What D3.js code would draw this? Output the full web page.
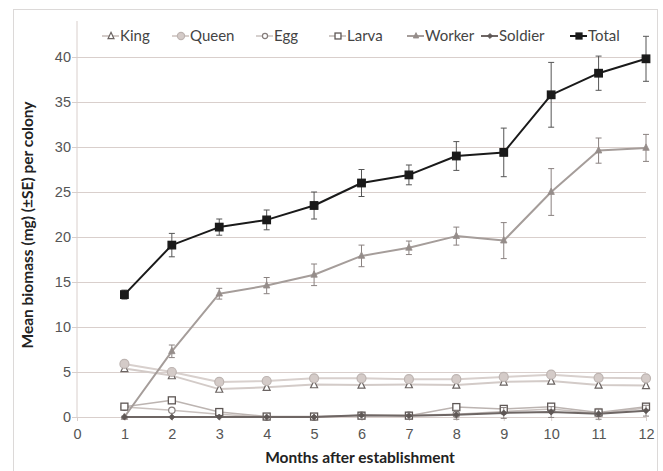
<!DOCTYPE html>
<html>
<head>
<meta charset="utf-8">
<script src="https://cdn.jsdelivr.net/npm/d3@7"></script>
<style>
  html, body { margin: 0; padding: 0; background: #fff; }
  svg { display: block; font-family: Lato, "Open Sans", sans-serif; }
</style>
</head>
<body>
<svg id="chart" width="663" height="471"></svg>
<script>
// Colony biomass by caste over the first year
const months = [1, 2, 3, 4, 5, 6, 7, 8, 9, 10, 11, 12];

const king    = [5.4, 4.6, 3.1, 3.3, 3.6, 3.55, 3.6, 3.55, 3.9, 4.0, 3.55, 3.5];
const queen   = [5.9, 5.0, 3.9, 4.0, 4.3, 4.3, 4.2, 4.2, 4.45, 4.7, 4.35, 4.3];
const egg     = [1.1, 0.75, 0.3, 0.0, 0.0, 0.2, 0.2, 0.3, 0.6, 0.9, 0.4, 1.0];
const larva   = [1.15, 1.85, 0.55, 0.05, 0.05, 0.15, 0.15, 1.1, 0.9, 1.15, 0.5, 1.15];
const worker  = [0.0, 7.3, 13.7, 14.6, 15.8, 17.9, 18.8, 20.1, 19.6, 25.0, 29.6, 29.9];
const soldier = [0.0, 0.0, 0.0, 0.0, 0.0, 0.2, 0.15, 0.25, 0.45, 0.55, 0.35, 0.7];
const total   = [13.6, 19.1, 21.1, 21.9, 23.5, 26.0, 26.9, 29.0, 29.4, 35.8, 38.2, 39.8];

// standard errors
const workerSE  = [0.1, 0.7, 0.6, 0.9, 1.2, 1.2, 0.75, 1.0, 2.0, 2.6, 1.4, 1.5];
const soldierSE = [0, 0, 0, 0, 0, 0.1, 0.1, 0.5, 0.6, 0.6, 0.6, 0.6];
const totalSE   = [0.5, 1.3, 0.9, 1.1, 1.5, 1.5, 1.1, 1.6, 2.7, 3.6, 1.9, 2.5];

const xTicks = [0, 1, 2, 3, 4, 5, 6, 7, 8, 9, 10, 11, 12];
const yTicks = [0, 5, 10, 15, 20, 25, 30, 35, 40];

const seriesNames = ["King", "Queen", "Egg", "Larva", "Worker", "Soldier", "Total"];

const svg = d3.select("#chart");

const x = d3.scaleLinear().domain([0, 12]).range([77, 646]);
const y = d3.scaleLinear().domain([0, 44]).range([417, 21]);

// outer frame
svg.append("rect")
  .attr("x", 13.5).attr("y", 9.5).attr("width", 644).attr("height", 470)
  .attr("fill", "none").attr("stroke", "#dcd9d8").attr("stroke-width", 1);

// horizontal gridlines + y axis
const gridColor = "#d9cfcc";
const yAxis = d3.axisLeft(y).tickValues(yTicks).tickSize(5).tickSizeOuter(0).tickFormat(d3.format("d"));
const gy = svg.append("g").attr("transform", "translate(77,0)").call(yAxis);
gy.selectAll(".tick line").attr("stroke", gridColor);
gy.selectAll(".tick text").attr("fill", "#555").attr("font-size", 14.5).attr("x", -6);
gy.select(".domain").remove();
svg.append("line")
  .attr("x1", 77).attr("x2", 77).attr("y1", y(44)).attr("y2", y(0))
  .attr("stroke", gridColor).attr("stroke-width", 1);

svg.append("g").selectAll("line").data(yTicks).join("line")
  .attr("x1", 77).attr("x2", x(12))
  .attr("y1", d => Math.round(y(d)) + 0.5).attr("y2", d => Math.round(y(d)) + 0.5)
  .attr("stroke", gridColor).attr("stroke-width", 1);

// x axis
const xAxis = d3.axisBottom(x).tickValues(xTicks).tickSize(4).tickSizeOuter(0).tickFormat(d3.format("d"));
const gx = svg.append("g").attr("transform", `translate(0,${y(0)})`).call(xAxis);
gx.select(".domain").attr("stroke", gridColor);
gx.selectAll(".tick line").attr("stroke", gridColor);
gx.selectAll(".tick text").attr("fill", "#555").attr("font-size", 14.5).attr("dy", "1.05em");

// axis titles
svg.append("text")
  .attr("x", 360).attr("y", 463)
  .attr("text-anchor", "middle").attr("font-size", 15.5).attr("font-weight", "bold").attr("fill", "#222")
  .text("Months after establishment");
svg.append("text")
  .attr("transform", "translate(33,225) rotate(-90)")
  .attr("text-anchor", "middle").attr("font-size", 15.5).attr("font-weight", "bold").attr("fill", "#222")
  .text("Mean biomass (mg) (\u00b1SE) per colony");

// series styling
const series = [
  { name: "King",    values: king,    line: "#d3cbc8", lw: 2,   marker: "triangle", fill: "#fff",    stroke: "#6b6462", size: 7 },
  { name: "Queen",   values: queen,   line: "#d8d0cd", lw: 2,   marker: "circle",   fill: "#d4cbc8", stroke: "#bdb4b1", size: 4.5 },
  { name: "Egg",     values: egg,     line: "#c9c1be", lw: 1.5, marker: "circle",   fill: "#fff",    stroke: "#857d7b", size: 3.2 },
  { name: "Larva",   values: larva,   line: "#bcb4b1", lw: 1.5, marker: "square",   fill: "#fff",    stroke: "#5e5755", size: 7 },
  { name: "Worker",  values: worker,  line: "#a59d9a", lw: 2,   marker: "tri-small",fill: "#958d8a", stroke: "#958d8a", size: 4, se: workerSE },
  { name: "Soldier", values: soldier, line: "#6e6664", lw: 2,   marker: "diamond",  fill: "#5e5755", stroke: "#5e5755", size: 3, se: soldierSE },
  { name: "Total",   values: total,   line: "#1a1a1a", lw: 2,   marker: "square",   fill: "#1a1a1a", stroke: "#1a1a1a", size: 7.5, se: totalSE }
];

function drawMarker(g, type, cx, cy, s, fill, stroke) {
  if (type === "circle") {
    g.append("circle").attr("cx", cx).attr("cy", cy).attr("r", s)
      .attr("fill", fill).attr("stroke", stroke).attr("stroke-width", 1.2);
  } else if (type === "square") {
    g.append("rect").attr("x", cx - s / 2).attr("y", cy - s / 2).attr("width", s).attr("height", s)
      .attr("fill", fill).attr("stroke", stroke).attr("stroke-width", 1.3);
  } else if (type === "triangle") {
    const h = s * 0.9;
    g.append("path").attr("d", `M${cx},${cy - h / 2 - 1}L${cx + s / 2},${cy + h / 2}L${cx - s / 2},${cy + h / 2}Z`)
      .attr("fill", fill).attr("stroke", stroke).attr("stroke-width", 1.2);
  } else if (type === "tri-small") {
    g.append("path").attr("d", `M${cx},${cy - s}L${cx + s * 0.8},${cy + s * 0.6}L${cx - s * 0.8},${cy + s * 0.6}Z`)
      .attr("fill", fill).attr("stroke", stroke).attr("stroke-width", 0.8);
  } else if (type === "diamond") {
    g.append("path").attr("d", `M${cx},${cy - s}L${cx + s},${cy}L${cx},${cy + s}L${cx - s},${cy}Z`)
      .attr("fill", fill).attr("stroke", stroke).attr("stroke-width", 0.8);
  }
}

const lineGen = d3.line().x((d, i) => x(months[i])).y(d => y(d));
const plot = svg.append("g");

series.forEach(s => {
  const g = plot.append("g");
  // error bars
  if (s.se) {
    const ebColor = s.name === "Total" ? "#555" : "#8a8280";
    s.values.forEach((v, i) => {
      const e = s.se[i];
      if (!e) return;
      const cx = x(months[i]);
      g.append("line").attr("x1", cx).attr("x2", cx).attr("y1", y(v + e)).attr("y2", y(v - e))
        .attr("stroke", ebColor).attr("stroke-width", 1);
      [v + e, v - e].forEach(t => {
        g.append("line").attr("x1", cx - 3).attr("x2", cx + 3).attr("y1", y(t)).attr("y2", y(t))
          .attr("stroke", ebColor).attr("stroke-width", 1);
      });
    });
  }
  g.append("path").datum(s.values).attr("d", lineGen)
    .attr("fill", "none").attr("stroke", s.line).attr("stroke-width", s.lw).attr("stroke-linejoin", "round");
  s.values.forEach((v, i) => drawMarker(g, s.marker, x(months[i]), y(v), s.size, s.fill, s.stroke));
});

// legend
const legendX = [102, 172, 256, 329, 407, 481, 570];
const legend = svg.append("g");
series.forEach((s, i) => {
  const lx = legendX[i], ly = 36;
  legend.append("line").attr("x1", lx).attr("x2", lx + 17).attr("y1", ly).attr("y2", ly)
    .attr("stroke", s.line).attr("stroke-width", s.lw);
  drawMarker(legend, s.marker, lx + 9, ly, Math.min(s.size, 7) * (s.marker === "circle" ? 0.8 : 0.85), s.fill, s.stroke);
  legend.append("text").attr("x", lx + 18).attr("y", ly + 5)
    .attr("font-size", 15).attr("fill", "#444").text(seriesNames[i]);
});
</script>
</body>
</html>
